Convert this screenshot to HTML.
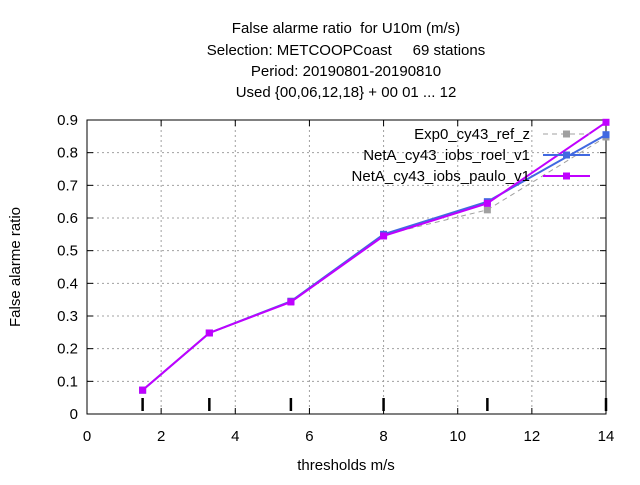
<!DOCTYPE html>
<html><head><meta charset="utf-8"><style>
body{margin:0;background:#fff;}
svg text{font-family:"Liberation Sans",sans-serif;font-size:15px;fill:#000;white-space:pre;}
</style></head><body>
<svg id="c" width="640" height="480" xmlns="http://www.w3.org/2000/svg">
<g text-anchor="middle">
<text x="346" y="33">False alarme ratio  for U10m (m/s)</text>
<text x="346" y="55">Selection: METCOOPCoast     69 stations</text>
<text x="346" y="76">Period: 20190801-20190810</text>
<text x="346" y="97">Used {00,06,12,18} + 00 01 ... 12</text>
</g>
<g id="grid"></g><g id="axes"></g><g id="series"></g><g id="legend"></g>
<text x="346" y="470" text-anchor="middle">thresholds m/s</text>
<text transform="translate(20,267) rotate(-90)" text-anchor="middle">False alarme ratio</text>
</svg>
<script>
const thresholds=[1.5,3.3,5.5,8,10.8,14];
const exp0=[0.073,0.248,0.345,0.548,0.625,0.848];
const roel=[0.073,0.248,0.345,0.550,0.650,0.855];
const paulo=[0.073,0.248,0.343,0.545,0.645,0.893];
const xTicks=[0,2,4,6,8,10,12,14];
const yTicks=[0,0.1,0.2,0.3,0.4,0.5,0.6,0.7,0.8,0.9];
const seriesNames=["Exp0_cy43_ref_z","NetA_cy43_iobs_roel_v1","NetA_cy43_iobs_paulo_v1"];
const L=87,R=606,T=120,B=414;
const X=v=>L+(v-0)/14*(R-L), Y=v=>B-v/0.9*(B-T);
const NS="http://www.w3.org/2000/svg";
function mk(p,t,a){const e=document.createElementNS(NS,t);for(const k in a)e.setAttribute(k,a[k]);document.getElementById(p).appendChild(e);return e;}
xTicks.forEach(v=>{
 if(v>0&&v<14){const g=mk('grid','line',{x1:X(v),x2:X(v),y1:T,y2:B,stroke:'#a0a0a0','stroke-dasharray':'2,3'});
 
 }
 const t=mk('axes','text',{x:X(v),y:B+27,'text-anchor':'middle'});t.textContent=v;
 
 
 mk('axes','line',{x1:X(v),x2:X(v),y1:B,y2:B-6,stroke:'#000'});
 mk('axes','line',{x1:X(v),x2:X(v),y1:T,y2:T+6,stroke:'#000'});
});
yTicks.forEach(v=>{
 if(v>0&&v<0.9){const g=mk('grid','line',{x1:L,x2:R,y1:Y(v),y2:Y(v),stroke:'#a0a0a0','stroke-dasharray':'2,3'});
 
 }
 const t=mk('axes','text',{x:L-9,y:Y(v)+5,'text-anchor':'end'});t.textContent=v===0?'0':v.toFixed(1);
 
 
 mk('axes','line',{x1:L,x2:L+6,y1:Y(v),y2:Y(v),stroke:'#000'});
 mk('axes','line',{x1:R,x2:R-6,y1:Y(v),y2:Y(v),stroke:'#000'});
});
const box=mk('axes','rect',{x:L,y:T,width:R-L,height:B-T,fill:'none',stroke:'#000'});


thresholds.forEach(v=>{const m=mk('axes','line',{x1:X(v),x2:X(v),y1:B-16,y2:B-3,stroke:'#000','stroke-width':2.5});
 
 });
const defs=[[exp0,'#a0a0a0','5,4',1],[roel,'#4169e1','',2],[paulo,'#c000ff','',2]];
defs.forEach((d,i)=>{
 const pts=thresholds.map((t,j)=>X(t)+','+Y(d[0][j])).join(' ');
 const p=mk('series','polyline',{points:pts,fill:'none',stroke:d[1],'stroke-width':d[3],'stroke-dasharray':d[2]});
 
 
 thresholds.forEach((t,j)=>{const r=mk('series','rect',{x:X(t)-3.5,y:Y(d[0][j])-3.5,width:7,height:7,fill:d[1]});
  
  });
 const ly=134+i*21;
 const lt=mk('legend','text',{x:530,y:ly+5,'text-anchor':'end'});lt.textContent=seriesNames[i];
 
 
 mk('legend','line',{x1:543,x2:590,y1:ly,y2:ly,stroke:d[1],'stroke-width':d[3],'stroke-dasharray':d[2]});
 mk('legend','rect',{x:563,y:ly-3.5,width:7,height:7,fill:d[1]});
});
</script>
</body></html>
